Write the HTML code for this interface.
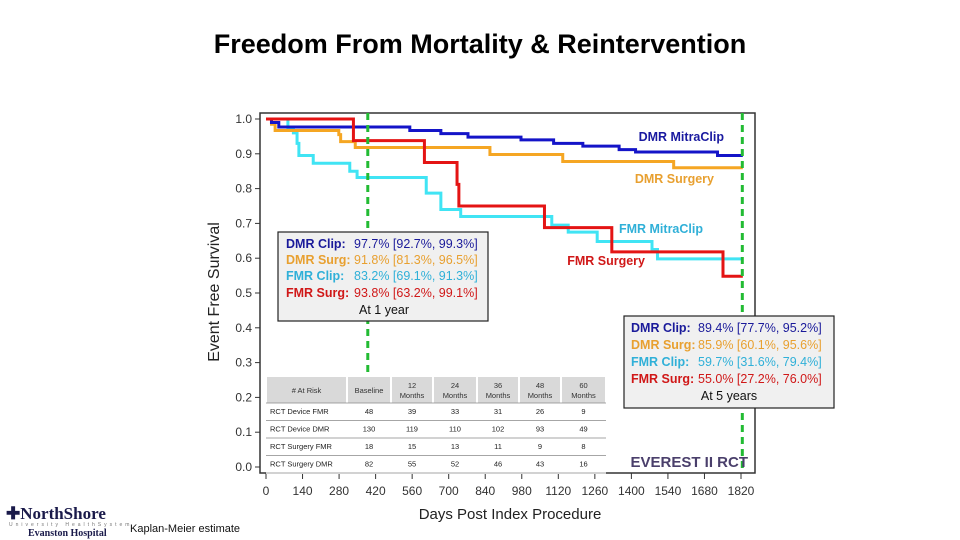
<!DOCTYPE html>
<html><head><meta charset="utf-8"><style>
body{margin:0;background:#fff;}
svg{display:block;font-family:"Liberation Sans",sans-serif;}
</style></head><body>
<svg id="c" width="960" height="540" viewBox="0 0 960 540">
<text x="480" y="53" text-anchor="middle" font-size="27" font-weight="bold">Freedom From Mortality &amp; Reintervention</text>
<rect x="260" y="113" width="495" height="360" fill="none" stroke="#333" stroke-width="1.5"/>
<g id="yaxis"></g>
<g id="xaxis"></g>
<text transform="translate(219,292) rotate(-90)" text-anchor="middle" font-size="16" fill="#222">Event Free Survival</text>
<text x="510" y="519" text-anchor="middle" font-size="15" fill="#222">Days Post Index Procedure</text>
<g id="curves"></g>
<g id="marks"></g>
<g font-weight="bold" font-size="12.5" font-family="Liberation Sans, sans-serif">
<text x="724" y="141" text-anchor="end" fill="#1a1aa0">DMR MitraClip</text>
<text x="714" y="183" text-anchor="end" fill="#e8a030">DMR Surgery</text>
<text x="703" y="233" text-anchor="end" fill="#30b0d8">FMR MitraClip</text>
<text x="645" y="265" text-anchor="end" fill="#d01818">FMR Surgery</text>
</g>
<g>
<rect x="278" y="232" width="210" height="89" fill="#f0f0f0" stroke="#222" stroke-width="1.2"/>
<g font-size="12.5">
<text x="286" y="248" fill="#1a1a9a"><tspan font-weight="bold">DMR Clip:</tspan><tspan x="354">97.7% [92.7%, 99.3%]</tspan></text>
<text x="286" y="264" fill="#e8a030"><tspan font-weight="bold">DMR Surg:</tspan><tspan x="354">91.8% [81.3%, 96.5%]</tspan></text>
<text x="286" y="280" fill="#30b0d8"><tspan font-weight="bold">FMR Clip:</tspan><tspan x="354">83.2% [69.1%, 91.3%]</tspan></text>
<text x="286" y="297" fill="#d01818"><tspan font-weight="bold">FMR Surg:</tspan><tspan x="354">93.8% [63.2%, 99.1%]</tspan></text>
<text x="384" y="314" text-anchor="middle" fill="#111">At 1 year</text>
</g></g>
<g>
<rect x="624" y="316" width="210" height="92" fill="#f0f0f0" stroke="#222" stroke-width="1.2"/>
<g font-size="12.5">
<text x="631" y="332" fill="#1a1a9a"><tspan font-weight="bold">DMR Clip:</tspan><tspan x="698">89.4% [77.7%, 95.2%]</tspan></text>
<text x="631" y="349" fill="#e8a030"><tspan font-weight="bold">DMR Surg:</tspan><tspan x="698">85.9% [60.1%, 95.6%]</tspan></text>
<text x="631" y="366" fill="#30b0d8"><tspan font-weight="bold">FMR Clip:</tspan><tspan x="698">59.7% [31.6%, 79.4%]</tspan></text>
<text x="631" y="383" fill="#d01818"><tspan font-weight="bold">FMR Surg:</tspan><tspan x="698">55.0% [27.2%, 76.0%]</tspan></text>
<text x="729" y="400" text-anchor="middle" fill="#111">At 5 years</text>
</g></g>
<g id="table"></g>
<text x="748" y="467" text-anchor="end" font-size="15" font-weight="bold" fill="#4a3f6b">EVEREST II RCT</text>
<g>
<text x="6" y="519" font-family="Liberation Serif, serif" font-weight="bold" font-size="17" fill="#1a1a4a">✚NorthShore</text>
<text x="9" y="526" font-size="5" letter-spacing="3" fill="#777">University HealthSystem</text>
<text x="28" y="536" font-family="Liberation Serif, serif" font-weight="bold" font-size="10" fill="#1a1a4a">Evanston Hospital</text>
</g>
<text x="130" y="532" font-size="11" fill="#111">Kaplan-Meier estimate</text>
</svg>
<script>
const yTicks=[0.0,0.1,0.2,0.3,0.4,0.5,0.6,0.7,0.8,0.9,1.0];
const xTicks=[0,140,280,420,560,700,840,980,1120,1260,1400,1540,1680,1820];
const dmrClipDays=[0,21,49,551,670,774,977,1102,1214,1353,1416,1730,1827];
const dmrClipSurv=[1.0,0.99,0.977,0.967,0.958,0.948,0.94,0.93,0.922,0.912,0.905,0.895,0.895];
const dmrSurgDays=[0,21,35,279,286,342,858,1137,1562,1827];
const dmrSurgSurv=[1.0,0.985,0.967,0.955,0.935,0.918,0.898,0.878,0.86,0.86];
const fmrClipDays=[0,84,105,119,126,181,321,349,614,670,746,1095,1158,1269,1479,1500,1827];
const fmrClipSurv=[1.0,0.975,0.96,0.93,0.895,0.873,0.85,0.832,0.787,0.74,0.72,0.695,0.675,0.648,0.625,0.598,0.598];
const fmrSurgDays=[0,335,607,732,739,1067,1325,1751,1827];
const fmrSurgSurv=[1.0,0.938,0.875,0.812,0.75,0.688,0.618,0.548,0.548];
const markerDays=[390,1825];
const tableHeaders=["# At Risk","Baseline","12 Months","24 Months","36 Months","48 Months","60 Months"];
const tableRowLabels=["RCT Device FMR","RCT Device DMR","RCT Surgery FMR","RCT Surgery DMR"];
const tableValues=[[48,39,33,31,26,9],[130,119,110,102,93,49],[18,15,13,11,9,8],[82,55,52,46,43,16]];

const NS="http://www.w3.org/2000/svg";
const X=d=>266+d*(741-266)/1820;
const Y=v=>467-v*348;
function mk(tag,attrs,parent){const e=document.createElementNS(NS,tag);for(const k in attrs)e.setAttribute(k,attrs[k]);parent.appendChild(e);return e;}
const ya=document.getElementById('yaxis'),xa=document.getElementById('xaxis');
yTicks.forEach(v=>{
  const l=mk('line',{x1:255,x2:260,y1:Y(v),y2:Y(v),stroke:'#333'},ya);
  
  
  const t=mk('text',{x:252,y:Y(v)+4,'text-anchor':'end','font-size':12,fill:'#333'},ya);
  t.textContent=v.toFixed(1);
  
  
});
xTicks.forEach(d=>{
  const l=mk('line',{x1:X(d),x2:X(d),y1:473,y2:479,stroke:'#333'},xa);
  
  
  const t=mk('text',{x:X(d),y:495,'text-anchor':'middle','font-size':12,fill:'#333'},xa);
  t.textContent=d;
  
  
});
const cg=document.getElementById('curves');
function step(days,surv,color,name){
  let p='M'+X(days[0])+','+Y(surv[0]);
  for(let i=1;i<days.length;i++){p+=' H'+X(days[i])+' V'+Y(surv[i]);}
  const e=mk('path',{d:p,fill:'none',stroke:color,'stroke-width':3},cg);
  
  
}
step(fmrClipDays,fmrClipSurv,'#40e4f4','curve-fmr-mitraclip');
step(dmrSurgDays,dmrSurgSurv,'#f5a623','curve-dmr-surgery');
step(dmrClipDays,dmrClipSurv,'#1414c8','curve-dmr-mitraclip');
step(fmrSurgDays,fmrSurgSurv,'#e41414','curve-fmr-surgery');
const mg=document.getElementById('marks');
markerDays.forEach(d=>{
  const l=mk('line',{x1:X(d),x2:X(d),y1:113,y2:473,stroke:'#22bb33','stroke-width':3,'stroke-dasharray':'7,5'},mg);
  
  
});
const tg=document.getElementById('table');
const colX=[266,347,391,433,477,519,561,606];
mk('rect',{x:266,y:376,width:340,height:98,fill:'#fff'},tg);
for(let c=0;c<7;c++){mk('rect',{x:colX[c]+1,y:377,width:colX[c+1]-colX[c]-2,height:26,fill:'#d9d9d9'},tg);}
tableHeaders.forEach((h,c)=>{
  const cx=(colX[c]+colX[c+1])/2;
  const parts=h.split(' ');
  if(c>=2){
    [parts[0],parts[1]].forEach((s,i)=>{const t=mk('text',{x:cx,y:388+i*10,'text-anchor':'middle','font-size':7.5,fill:'#333'},tg);t.textContent=s;});
  } else {
    const t=mk('text',{x:cx,y:393,'text-anchor':'middle','font-size':7.5,fill:'#333'},tg);t.textContent=h;
    
    
  }
});
tableRowLabels.forEach((r,i)=>{
  const yb=403+i*17.5;
  mk('line',{x1:266,x2:606,y1:yb+17.5,y2:yb+17.5,stroke:'#888','stroke-width':0.8},tg);
  const t=mk('text',{x:270,y:yb+11,'font-size':7.5,fill:'#222'},tg);t.textContent=r;
  
  
  tableValues[i].forEach((v,c)=>{
    const tv=mk('text',{x:(colX[c+1]+colX[c+2])/2,y:yb+11,'text-anchor':'middle','font-size':7.5,fill:'#222'},tg);tv.textContent=v;
    
    
  });
});
mk('line',{x1:266,x2:606,y1:403,y2:403,stroke:'#888','stroke-width':0.8},tg);
</script>
</body></html>
